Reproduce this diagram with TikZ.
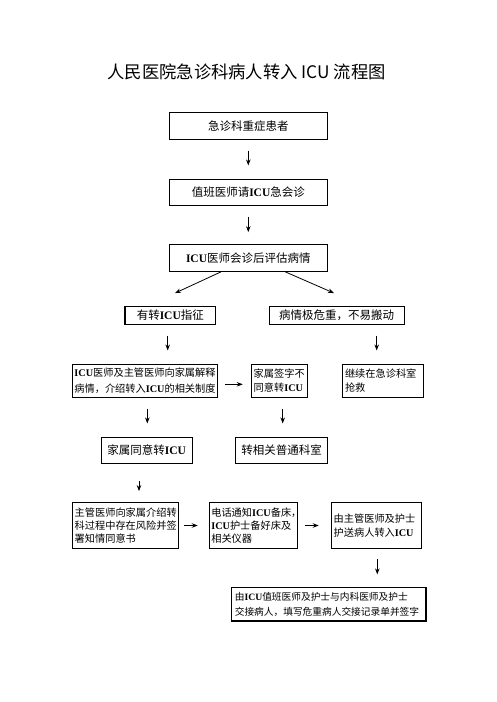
\documentclass[tikz,border=0pt]{standalone}
\usepackage{fontspec}
\setmainfont{Noto Sans CJK SC}
\newfontfamily\icufont{Liberation Serif}
\newcommand\icu{{\icufont\bfseries ICU}}
\usetikzlibrary{arrows.meta,calc}
\begin{document}
\begin{tikzpicture}[x=1pt,y=-1pt,
  box/.style={draw,line width=1.1pt,inner sep=0pt,anchor=center},
  one/.style={font={\fontsize{11.5}{14}\selectfont}},
  multi/.style={font={\fontsize{10.2}{#1}\selectfont},align=left},
  arr/.style={-{Stealth[length=6pt,width=4.5pt]},line width=0.8pt}]
\path[use as bounding box,fill=white] (0,0) rectangle (496,702);
\node (title) at (246.7,71.7) {\fontsize{17.3}{19}\selectfont 人民医院急诊科病人转入 ICU 流程图};
\node[box,one,minimum width=158pt,minimum height=26.7pt] (b1) at (248.3,126) {急诊科重症患者};
\node[box,one,minimum width=158pt,minimum height=26pt] (b2) at (248.3,192.3) {值班医师请\icu 急会诊};
\node[box,one,minimum width=158pt,minimum height=27pt] (b3) at (248.3,257.8) {\icu 医师会诊后评估病情};
\node[box,one,minimum width=90.7pt,minimum height=17.7pt] (b4) at (170.3,315.5) {有转\icu 指征};
\node[box,one,minimum width=134.7pt,minimum height=17.7pt] (b5) at (336.7,315.5) {病情极危重，不易搬动};
\node[box,multi=16,minimum width=144.7pt,minimum height=33.3pt] (b6) at (145,380.7) {\icu 医师及主管医师向家属解释\\病情，介绍转入\icu 的相关制度};
\node[box,multi=13.5,minimum width=56pt,minimum height=33.3pt,text width=52pt] (b7) at (279.7,380.7) {家属签字不\\同意转\icu};
\node[box,multi=14,minimum width=80.7pt,minimum height=33.3pt,text width=76pt] (b8) at (383,380.7) {继续在急诊科室\\抢救};
\node[box,one,minimum width=91.3pt,minimum height=26pt] (b9) at (146.7,450.3) {家属同意转\icu};
\node[box,one,minimum width=91.7pt,minimum height=26pt] (b10) at (281.5,450.3) {转相关普通科室};
\node[box,multi=13,minimum width=106pt,minimum height=45.7pt,text width=102pt] (b11) at (125.7,525.5) {主管医师向家属介绍转\\科过程中存在风险并签\\署知情同意书};
\node[box,multi=13,minimum width=88pt,minimum height=45.7pt,text width=84pt] (b12) at (253.3,525.5) {电话通知\icu 备床，\\\icu 护士备好床及\\相关仪器};
\node[box,multi=14,minimum width=90pt,minimum height=45.7pt,text width=86pt] (b13) at (376.7,525.5) {由主管医师及护士\\护送病人转入\icu};
\node[box,font={\fontsize{9.7}{15}\selectfont},align=left,minimum width=194.3pt,minimum height=33.3pt,text width=188pt] (b14) at (328.8,604.3) {由\icu 值班医师及护士与内科医师及护士\\交接病人，填写危重病人交接记录单并签字};
% helper coordinates
\path (b3.south) ++(-27.3,0) coordinate (d1s);
\path (b4.north) ++(4.7,-13) coordinate (d1e);
\path (b3.south) ++(37,0) coordinate (d2s);
\path (b5.north) ++(-2.7,-13) coordinate (d2e);
\path (b4.south) ++(-2.6,0) coordinate (a4);
\path (b8.north) ++(-6.3,0) coordinate (a8);
\path (b6.south) ++(2.3,0) coordinate (a6);
\path (b10.north) ++(1.2,0) coordinate (a10);
\path (b9.south) ++(-7.7,0) coordinate (a9);
\path (b13.south) ++(0.6,0) coordinate (a13);
\path (b6.east) ++(0,3.6) coordinate (a6e);
\path (b7.west) ++(0,3.6) coordinate (a7w);
% arrows
\draw[arr,shorten <=10.7pt,shorten >=13.3pt] (b1.south) -- (b2.north);
\draw[arr,shorten <=10.7pt,shorten >=11.6pt] (b2.south) -- (b3.north);
\draw[arr] (d1s) -- (d1e);
\draw[arr] (d2s) -- (d2e);
\draw[arr,shorten <=10.7pt,shorten >=13pt] (a4) -- (a4 |- b6.north);
\draw[arr,shorten <=10.7pt,shorten >=13pt] (a8 |- b5.south) -- (a8);
\draw[arr,shorten <=7pt,shorten >=8.4pt] (a6e) -- (a7w);
\draw[arr,shorten <=11pt,shorten >=13.3pt] (a6) -- (a6 |- b9.north);
\draw[arr,shorten <=11pt,shorten >=13.3pt] (a10 |- b7.south) -- (a10);
\draw[arr,shorten <=17.4pt,shorten >=11pt] (a9) -- (a9 |- b11.north);
\draw[arr,shorten <=4.6pt,shorten >=11pt] (b11.east) -- (b12.west);
\draw[arr,shorten <=6.7pt,shorten >=12.4pt] (b12.east) -- (b13.west);
\draw[arr,shorten <=10pt,shorten >=12.7pt] (a13) -- (a13 |- b14.north);
\end{tikzpicture}
\end{document}
